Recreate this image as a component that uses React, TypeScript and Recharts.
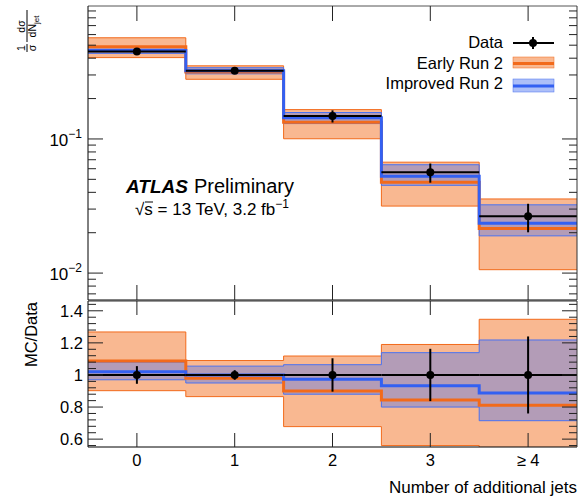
import React from 'react';
import { Area, ComposedChart, ErrorBar, Line, Scatter, XAxis, YAxis } from 'recharts';

const FONT = '"Liberation Sans", Arial, Helvetica, sans-serif';
const ORANGE = '#f26a1b';
const ORANGE_FILL = '#f9b891';
const BLUE = '#3360f2';
const BLUE_FILL = '#4a72f0';

// bins
const binCenters = [0, 1, 2, 3, 4];
const binEdges = [-0.5, 0.5, 1.5, 2.5, 3.5, 4.5];
const xTickLabels = ['0', '1', '2', '3', '≥ 4'];

// measured 1/sigma dsigma/dNjet and relative stat. error
const dataValues = [0.448, 0.322, 0.148, 0.0564, 0.0265];
const dataRelErr = [0.055, 0.03, 0.104, 0.163, 0.24];

// MC / data ratios
const earlyRatio = [1.087, 0.98, 0.9, 0.844, 0.811];
const earlyRatioLow = [0.902, 0.865, 0.678, 0.56, 0.4];
const earlyRatioHigh = [1.268, 1.09, 1.118, 1.19, 1.347];

const improvedRatio = [1.02, 1.0, 0.973, 0.933, 0.888];
const improvedRatioLow = [0.97, 0.95, 0.88, 0.8, 0.715];
const improvedRatioHigh = [1.08, 1.055, 1.064, 1.139, 1.218];

// axis ticks
const logTicks = [0.007, 0.008, 0.009, 0.01, 0.02, 0.03, 0.04, 0.05, 0.06, 0.07, 0.08, 0.09, 0.1, 0.2, 0.3, 0.4, 0.5, 0.6, 0.7, 0.8, 0.9];
const logMajor = [0.01, 0.1];
const logLabels = ['−2', '−1'];
const ratioTicks = [0.56, 0.6, 0.64, 0.68, 0.72, 0.76, 0.8, 0.84, 0.88, 0.92, 0.96, 1, 1.04, 1.08, 1.12, 1.16, 1.2, 1.24, 1.28, 1.32, 1.36, 1.4, 1.44];
const ratioMajor = [0.6, 0.8, 1, 1.2, 1.4];
const ratioLabels = ['0.6', '0.8', '1', '1.2', '1.4'];

// step rows: one per bin edge, last edge repeats last bin
const stepRows = binEdges.map((x, i) => {
  const b = Math.min(i, binCenters.length - 1);
  const d = dataValues[b];
  return {
    x,
    early: d * earlyRatio[b],
    earlyBand: [d * earlyRatioLow[b], d * earlyRatioHigh[b]],
    improved: d * improvedRatio[b],
    improvedBand: [d * improvedRatioLow[b], d * improvedRatioHigh[b]],
    rEarly: earlyRatio[b],
    rEarlyBand: [earlyRatioLow[b], earlyRatioHigh[b]],
    rImproved: improvedRatio[b],
    rImprovedBand: [improvedRatioLow[b], improvedRatioHigh[b]]
  };
});

const pointRows = binCenters.map((x, i) => ({
  x,
  y: dataValues[i],
  ey: dataValues[i] * dataRelErr[i],
  r: 1,
  er: dataRelErr[i],
  ex: 0.5
}));

const isIn = (list: number[], v: number) => list.findIndex((m) => Math.abs(m - v) < 1e-9);

const yTick = (side: 'left' | 'right', majors: number[], labels: string[] | null, log: boolean) => (p: any) => {
  const v = p.payload.value;
  const k = isIn(majors, v);
  const len = k >= 0 ? 15 : 8;
  const dir = side === 'left' ? 1 : -1;
  return (
    <g>
      <line x1={p.x} x2={p.x + dir * len} y1={p.y} y2={p.y} stroke="#222" strokeWidth={1} />
      {side === 'left' && k >= 0 && labels && (log ? (
        <text x={p.x - 6} y={p.y + 7} textAnchor="end" fontSize={17} fontFamily={FONT} fill="#000">
          10<tspan dy={-8} fontSize={12}>{labels[k]}</tspan>
        </text>
      ) : (
        <text x={p.x - 5} y={p.y + 6} textAnchor="end" fontSize={16.5} fontFamily={FONT} fill="#000">
          {labels[k]}
        </text>
      ))}
    </g>
  );
};

const xTick = (dir: 1 | -1, len: number, withLabel: boolean) => (p: any) => {
  const k = isIn(binCenters, p.payload.value);
  return (
    <g>
      <line x1={p.x} x2={p.x} y1={p.y} y2={p.y + dir * len} stroke="#222" strokeWidth={1} />
      {withLabel && k >= 0 && (
        <text x={p.x} y={p.y + 19} textAnchor="middle" fontSize={16.5} fontFamily={FONT} fill="#000">
          {xTickLabels[k]}
        </text>
      )}
    </g>
  );
};

const dot = (p: any) => <circle cx={p.cx} cy={p.cy} r={4} fill="#000" />;

function TopPanel() {
  return (
    <ComposedChart width={582} height={301} margin={{ top: 5, right: 4, bottom: 0, left: 0 }}>
      <XAxis xAxisId="b" dataKey="x" type="number" domain={[-0.5, 4.5]} allowDataOverflow ticks={binCenters} interval={0}
        height={1} tickSize={0} tickMargin={0} tickLine={false} tick={xTick(-1, 15, false)} axisLine={{ stroke: '#000' }} />
      <XAxis xAxisId="t" orientation="top" dataKey="x" type="number" domain={[-0.5, 4.5]} allowDataOverflow ticks={binCenters} interval={0}
        height={1} tickSize={0} tickMargin={0} tickLine={false} tick={xTick(1, 15, false)} axisLine={{ stroke: '#555' }} />
      <YAxis yAxisId="l" scale="log" type="number" domain={[0.0063, 0.98]} allowDataOverflow ticks={logTicks} interval={0}
        width={88} tickSize={0} tickMargin={0} tickLine={false} tick={yTick('left', logMajor, logLabels, true)} axisLine={{ stroke: '#000' }} />
      <YAxis yAxisId="r" orientation="right" scale="log" type="number" domain={[0.0063, 0.98]} allowDataOverflow ticks={logTicks} interval={0}
        width={1} tickSize={0} tickMargin={0} tickLine={false} tick={yTick('right', logMajor, null, true)} axisLine={{ stroke: '#333' }} />
      <Area xAxisId="b" yAxisId="l" data={stepRows} dataKey="earlyBand" type="stepAfter" fill={ORANGE_FILL} fillOpacity={1}
        stroke={ORANGE} strokeWidth={1} isAnimationActive={false} />
      <Area xAxisId="b" yAxisId="l" data={stepRows} dataKey="improvedBand" type="stepAfter" fill={BLUE_FILL} fillOpacity={0.4}
        stroke={BLUE_FILL} strokeWidth={1} isAnimationActive={false} />
      <Line xAxisId="b" yAxisId="l" data={stepRows} dataKey="early" type="stepAfter" stroke={ORANGE} strokeWidth={3}
        dot={false} activeDot={false} isAnimationActive={false} />
      <Line xAxisId="b" yAxisId="l" data={stepRows} dataKey="improved" type="stepAfter" stroke={BLUE} strokeWidth={3}
        dot={false} activeDot={false} isAnimationActive={false} />
      <Scatter xAxisId="b" yAxisId="l" data={pointRows} dataKey="y" shape={dot} isAnimationActive={false}>
        <ErrorBar dataKey="ex" direction="x" width={0} stroke="#000" strokeWidth={2} />
        <ErrorBar dataKey="ey" direction="y" width={0} stroke="#000" strokeWidth={2} />
      </Scatter>
    </ComposedChart>
  );
}

function RatioPanel() {
  return (
    <ComposedChart width={582} height={198} margin={{ top: 0, right: 4, bottom: 50, left: 0 }}>
      <XAxis xAxisId="b" dataKey="x" type="number" domain={[-0.5, 4.5]} allowDataOverflow ticks={binCenters} interval={0}
        height={1} tickSize={0} tickMargin={0} tickLine={false} tick={xTick(-1, 14, true)} axisLine={{ stroke: '#000' }} />
      <XAxis xAxisId="t" orientation="top" dataKey="x" type="number" domain={[-0.5, 4.5]} allowDataOverflow ticks={binCenters} interval={0}
        height={1} tickSize={0} tickMargin={0} tickLine={false} tick={xTick(1, 14, false)} axisLine={{ stroke: '#333' }} />
      <YAxis yAxisId="l" type="number" domain={[0.551, 1.461]} allowDataOverflow ticks={ratioTicks} interval={0}
        width={88} tickSize={0} tickMargin={0} tickLine={false} tick={yTick('left', ratioMajor, ratioLabels, false)} axisLine={{ stroke: '#000' }} />
      <YAxis yAxisId="r" orientation="right" type="number" domain={[0.551, 1.461]} allowDataOverflow ticks={ratioTicks} interval={0}
        width={1} tickSize={0} tickMargin={0} tickLine={false} tick={yTick('right', ratioMajor, null, false)} axisLine={{ stroke: '#333' }} />
      <Area xAxisId="b" yAxisId="l" data={stepRows} dataKey="rEarlyBand" type="stepAfter" fill={ORANGE_FILL} fillOpacity={1}
        stroke={ORANGE} strokeWidth={1} isAnimationActive={false} />
      <Area xAxisId="b" yAxisId="l" data={stepRows} dataKey="rImprovedBand" type="stepAfter" fill={BLUE_FILL} fillOpacity={0.4}
        stroke={BLUE_FILL} strokeWidth={1} isAnimationActive={false} />
      <Line xAxisId="b" yAxisId="l" data={stepRows} dataKey="rEarly" type="stepAfter" stroke={ORANGE} strokeWidth={3}
        dot={false} activeDot={false} isAnimationActive={false} />
      <Line xAxisId="b" yAxisId="l" data={stepRows} dataKey="rImproved" type="stepAfter" stroke={BLUE} strokeWidth={3}
        dot={false} activeDot={false} isAnimationActive={false} />
      <Scatter xAxisId="b" yAxisId="l" data={pointRows} dataKey="r" shape={dot} isAnimationActive={false}>
        <ErrorBar dataKey="ex" direction="x" width={0} stroke="#000" strokeWidth={2} />
        <ErrorBar dataKey="er" direction="y" width={0} stroke="#000" strokeWidth={2} />
      </Scatter>
    </ComposedChart>
  );
}

function Overlay() {
  return (
    <svg width={582} height={498} style={{ position: 'absolute', left: 0, top: 0, pointerEvents: 'none' }} fontFamily={FONT}>
      {/* y title, top panel */}
      <g transform="translate(27,52) rotate(-90)" fontSize={10.5} fill="#000">
        <text x={4} y={-2} textAnchor="middle">1</text>
        <line x1={0} x2={8} y1={0} y2={0} stroke="#000" />
        <text x={4} y={9} textAnchor="middle">σ</text>
        <text x={25.5} y={-2} textAnchor="middle">dσ</text>
        <line x1={10} x2={42} y1={0} y2={0} stroke="#000" />
        <text x={25.5} y={9} textAnchor="middle">
          dN<tspan dy={3} fontSize={8}>jet</tspan>
        </text>
      </g>
      {/* y title, ratio panel */}
      <text transform="translate(37,302) rotate(-90)" textAnchor="end" fontSize={16.5} fill="#000">MC/Data</text>
      {/* x title */}
      <text x={577} y={493} textAnchor="end" fontSize={17} fill="#000">Number of additional jets</text>
      {/* ATLAS label */}
      <text x={126} y={193} fontSize={19} fontWeight="bold" fontStyle="italic" fill="#000">ATLAS</text>
      <text x={194} y={193} fontSize={20} fill="#000">Preliminary</text>
      <text x={135} y={215} fontSize={17} fill="#000">
        √<tspan>s = 13 TeV, 3.2 fb</tspan><tspan dy={-7} fontSize={12}>−1</tspan>
      </text>
      <line x1={145} x2={153} y1={202} y2={202} stroke="#000" strokeWidth={1} />
      {/* legend */}
      <text x={503} y={48} textAnchor="end" fontSize={16.5} fill="#000">Data</text>
      <line x1={513} x2={554} y1={43} y2={43} stroke="#000" strokeWidth={2} />
      <line x1={533} x2={533} y1={37} y2={49} stroke="#000" strokeWidth={2} />
      <circle cx={533} cy={43} r={4} fill="#000" />
      <text x={503} y={69} textAnchor="end" fontSize={16.5} fill="#000">Early Run 2</text>
      <rect x={513} y={57} width={41} height={11} fill={ORANGE_FILL} stroke={ORANGE} strokeWidth={0.5} />
      <line x1={513} x2={554} y1={63.5} y2={63.5} stroke={ORANGE} strokeWidth={3} />
      <text x={503} y={89} textAnchor="end" fontSize={16.5} fill="#000">Improved Run 2</text>
      <rect x={513} y={79} width={41} height={13} fill={BLUE_FILL} fillOpacity={0.45} stroke={BLUE_FILL} strokeWidth={0.5} />
      <line x1={513} x2={554} y1={86} y2={86} stroke={BLUE} strokeWidth={3} />
    </svg>
  );
}

export default function App() {
  return (
    <div style={{ position: 'absolute', left: 0, top: 0, width: 582, height: 498, background: '#fff', fontFamily: FONT }}>
      <div style={{ position: 'absolute', left: 0, top: 0 }}>
        <TopPanel />
      </div>
      <div style={{ position: 'absolute', left: 0, top: 300 }}>
        <RatioPanel />
      </div>
      <Overlay />
    </div>
  );
}
